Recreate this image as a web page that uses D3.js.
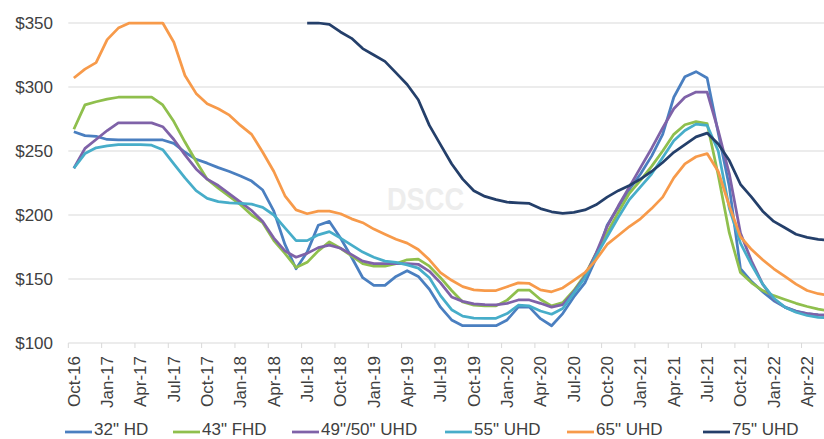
<!DOCTYPE html>
<html>
<head>
<meta charset="utf-8">
<script src="https://cdn.jsdelivr.net/npm/d3@7"></script>
<style>
  body { margin: 0; background: #fff; }
  text { font-family: "Liberation Sans", Arial, sans-serif; fill: #404040; }
</style>
</head>
<body>
<script>
// month categories Oct-16 .. Jun-22
const months = d3.timeMonths(new Date(2016, 9, 1), new Date(2022, 6, 1));
const yTicks = [100, 150, 200, 250, 300, 350];
const seriesNames = ['32" HD', '43" FHD', '49"/50" UHD', '55" UHD', '65" UHD', '75" UHD'];
const seriesColors = ["#4a7fc0", "#8fbf4d", "#7f62a8", "#47adc9", "#f79a4a", "#243f6a"];

const hd32 = [265, 262, 261.5, 259, 258.6, 258.6, 258.6, 258.6, 258.6, 256, 249, 243.5, 240.5, 237, 234, 230.5, 226.5, 219.5, 203, 177,
  158, 171, 192, 195, 182, 167, 151, 145, 145, 152, 156.5, 152, 142, 128, 118, 113.5, 113.5, 113.5, 113.5, 118,
  128, 128, 119, 113.5, 123, 136, 147, 166, 192, 206, 220, 232, 246, 263, 292, 308, 312, 307, 264, 222,
  158, 148, 140, 133, 128, 125, 123, 122, 121.5];
const fhd43 = [267, 286, 288.5, 290.5, 292, 292, 292, 292, 286, 273, 257, 242, 228, 221, 214.5, 208, 200, 194, 180, 170,
  159, 163, 172, 179, 174, 168, 162, 160, 160, 162, 165, 165.5, 160, 151, 141, 132, 129.5, 129, 129, 133.5,
  141.4, 141.4, 134, 129, 131.5, 141, 153, 170, 186, 202, 217, 227, 238, 250, 263, 270.5, 273, 271.5, 231, 186,
  155, 147, 141, 137, 134, 131, 128.5, 126.5, 125];
const uhd50 = [236.5, 252, 259, 266, 272, 272, 272, 272, 269, 259, 247, 236, 228, 223, 216.5, 210, 203.5, 195, 182, 172,
  167, 170, 174.5, 176.5, 174, 169, 164, 162, 162, 162, 162, 161.5, 156, 147, 136, 132.5, 130.5, 130, 129.7, 131,
  133.6, 133.6, 131, 128, 130, 140, 152, 170, 191, 207, 222, 237, 252, 268, 283, 292, 296, 296, 266, 232,
  186, 164, 146, 134, 128, 124.5, 123, 122, 121.5];
const uhd55 = [236.5, 248, 252.5, 254, 255, 255, 255, 254.5, 251, 240, 229, 219, 213, 210.5, 209.5, 209, 208.5, 206, 200, 190,
  180, 180, 184.5, 187, 182, 176.5, 171, 167, 164, 163, 161, 158.5, 151, 137, 126, 121, 119.5, 119.3, 119.3, 123,
  129.5, 129, 125, 122.5, 127, 139, 151, 168, 183, 198, 212, 222, 232, 245, 258, 266, 271, 270, 250, 205,
  178, 161, 146, 135, 128, 124, 121.5, 120, 119.5];
const uhd65 = [307, 314, 319, 337, 346, 351, 356, 356, 350, 335, 309, 295, 287, 283, 278, 270, 263, 249, 234, 215,
  204, 201, 203, 203, 201, 197, 194, 189, 185, 181, 178, 173, 165, 155, 149, 144, 141.5, 141, 141, 144,
  147, 146.5, 141.5, 140, 143, 149, 155, 165, 177, 184, 191, 197, 205, 214, 229, 240, 245.5, 248, 234, 207,
  183, 173, 165, 158, 152, 146, 141, 138.5, 137];
const uhd75 = [null, null, null, null, null, null, null, null, null, null, null, null, null, null, null, null, null, null, null, null,
  null, 350, 350, 349, 343, 338, 330, 325, 320, 311, 302, 290, 270, 255, 240, 228, 219, 214.5, 212, 210,
  209.5, 209, 205, 202.5, 201.3, 202, 204, 208, 214, 219, 223, 228, 234, 241, 249, 255, 261, 264, 255.5, 242.5,
  224, 214, 203, 195, 190, 185, 182.5, 181, 180];

const seriesValues = [hd32, fhd43, uhd50, uhd55, uhd65, uhd75];

const width = 824;
const height = 439;
const left = 68.3;
const step = 11.11;

window.onload = function() {
  let svg = d3.select("body").append("svg")
    .attr("width", width)
    .attr("height", height);

  let x = d3.scaleBand()
    .domain(d3.range(months.length))
    .range([left, left + months.length * step]);

  let y = d3.scaleLinear()
    .domain([100, 350])
    .range([343, 23])
    .clamp(true);

  // gridlines
  svg.append("g")
    .selectAll("line")
    .data(yTicks)
    .enter()
    .append("line")
    .attr("x1", left)
    .attr("x2", width)
    .attr("y1", d => y(d))
    .attr("y2", d => y(d))
    .style("stroke", "#d9d9d9")
    .style("stroke-width", 1);

  // y labels
  svg.append("g")
    .selectAll("text")
    .data(yTicks)
    .enter()
    .append("text")
    .attr("x", 53)
    .attr("y", d => y(d))
    .attr("dy", "0.35em")
    .attr("text-anchor", "end")
    .style("font-size", "17px")
    .text(d => "$" + d);

  // x ticks every 3 months at category boundaries
  let quarterIdx = d3.range(0, months.length, 3);
  svg.append("g")
    .selectAll("line")
    .data(quarterIdx)
    .enter()
    .append("line")
    .attr("x1", d => x(d))
    .attr("x2", d => x(d))
    .attr("y1", 343)
    .attr("y2", 348)
    .style("stroke", "#d9d9d9")
    .style("stroke-width", 1);

  let fmt = d3.timeFormat("%b-%y");
  svg.append("g")
    .selectAll("text")
    .data(quarterIdx)
    .enter()
    .append("text")
    .attr("transform", d => "translate(" + (x(d) + x.bandwidth() / 2) + ",356)rotate(-90)")
    .attr("dy", "0.35em")
    .attr("text-anchor", "end")
    .style("font-size", "17px")
    .text(d => fmt(months[d]));

  // watermark
  svg.append("text")
    .attr("x", 387)
    .attr("y", 210)
    .attr("textLength", 77)
    .attr("lengthAdjust", "spacingAndGlyphs")
    .style("font-size", "32px")
    .style("font-weight", "bold")
    .style("fill", "#ededed")
    .text("DSCC");

  // series lines
  let line = d3.line()
    .defined(d => d != null)
    .x((d, i) => x(i) + x.bandwidth() / 2)
    .y(d => y(d));

  svg.append("g")
    .selectAll("path")
    .data(seriesValues)
    .enter()
    .append("path")
    .attr("d", line)
    .style("fill", "none")
    .style("stroke", (d, i) => seriesColors[i])
    .style("stroke-width", 2.75)
    .style("stroke-linejoin", "round");

  // legend
  let legendX = [65, 173, 292, 445, 567, 703];
  let legend = svg.append("g")
    .selectAll("g")
    .data(seriesNames)
    .enter()
    .append("g")
    .attr("transform", (d, i) => "translate(" + legendX[i] + ",0)");

  legend.append("line")
    .attr("x1", 0)
    .attr("x2", 27)
    .attr("y1", 432)
    .attr("y2", 432)
    .style("stroke", (d, i) => seriesColors[i])
    .style("stroke-width", 2.75);

  legend.append("text")
    .attr("x", 29)
    .attr("y", 435)
    .style("font-size", "17px")
    .text(d => d);
};
</script>
</body>
</html>
